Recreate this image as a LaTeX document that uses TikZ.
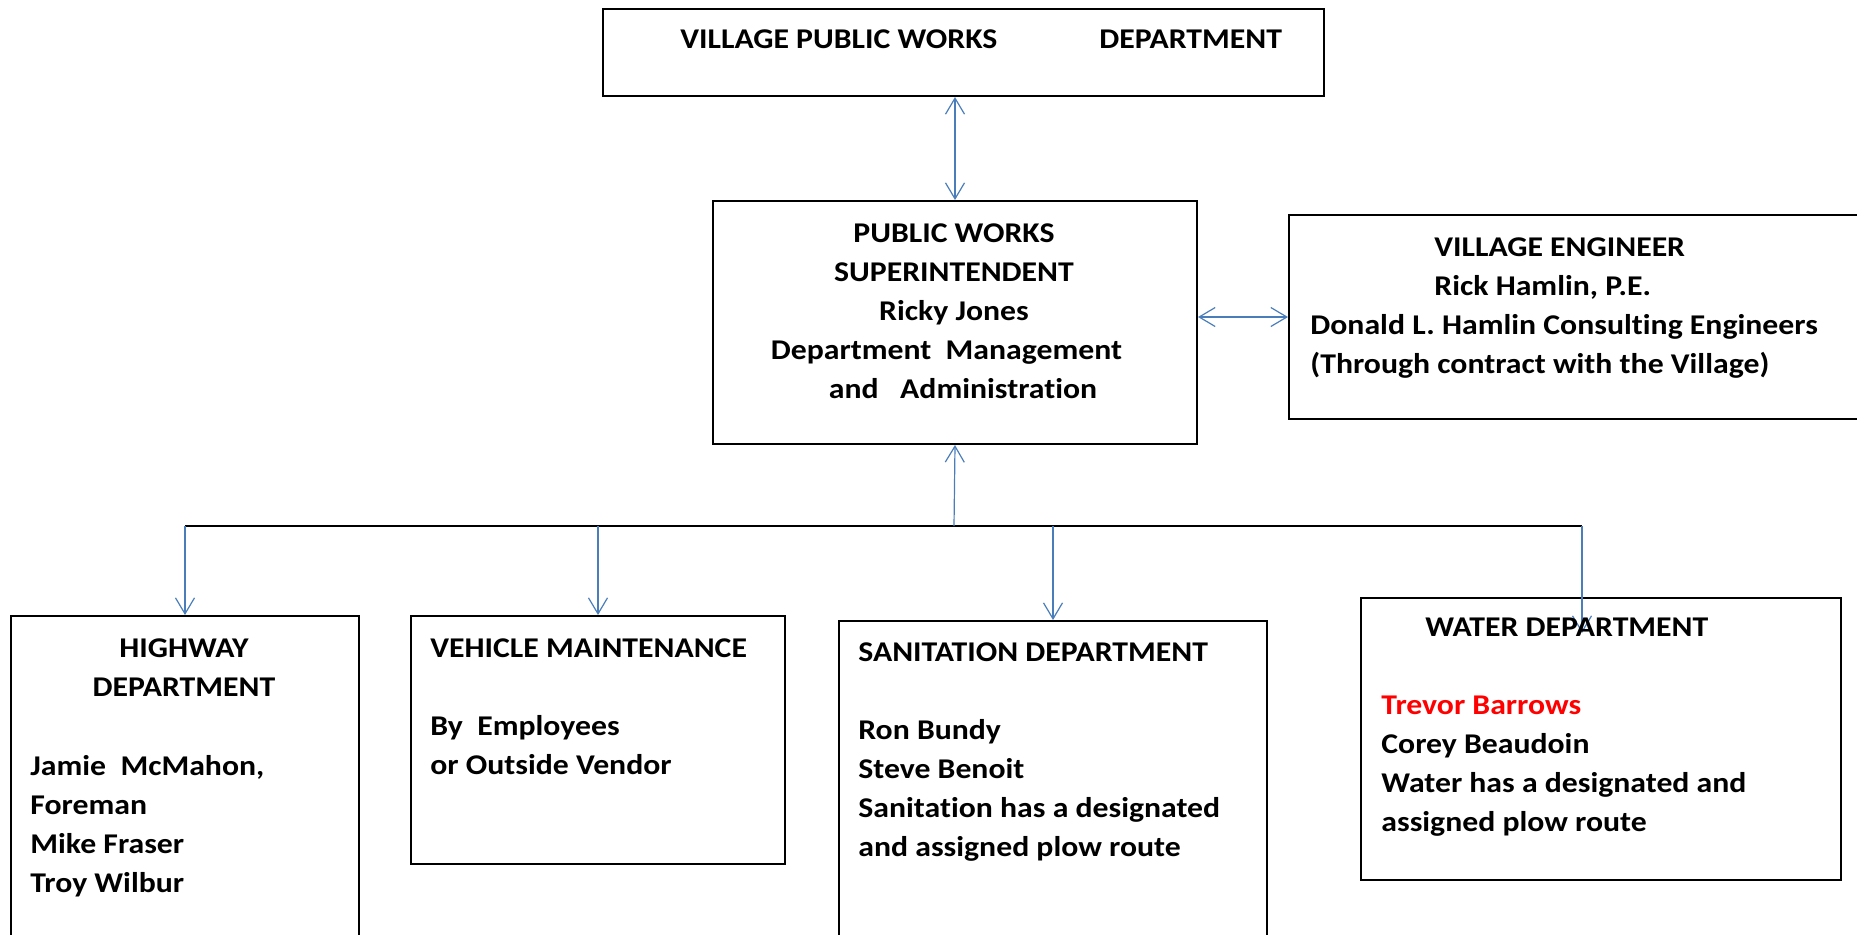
\documentclass[tikz,border=0pt]{standalone}
\usepackage{fontspec}
\setmainfont{Carlito}[FakeStretch=1.11, Ligatures=NoCommon]
\usetikzlibrary{positioning,arrows.meta}
\definecolor{linkblue}{RGB}{74,126,187}

\begin{document}
\begin{tikzpicture}[
  x=0.5pt, y=-0.5pt,
  every node/.style={font=\fontsize{14.3}{19.5}\selectfont\bfseries},
  box/.style={draw, line width=1pt, inner sep=0pt, anchor=north west},
  txt/.style={inner sep=0pt, align=left, anchor=north west},
  ctxt/.style={inner sep=0pt, align=center, anchor=north},
  link/.style={draw=linkblue, line width=0.6pt, >={Straight Barb[length=8pt,width=9.5pt]}},
  bus/.style={draw=black, line width=1pt},
]
\useasboundingbox (0,0) rectangle (1857,934);

% ── boxes ──
\node[box, minimum width=360.5pt, minimum height=43.5pt]  (top) at (602,8)    {};
\node[box, minimum width=242pt,   minimum height=121.5pt] (mid) at (712,200)  {};
\node[box, minimum width=290pt,   minimum height=102pt]   (eng) at (1288,214) {};
\node[box, minimum width=174pt,   minimum height=180pt]   (hwy) at (10,615)   {};
\node[box, minimum width=187pt,   minimum height=124pt]   (veh) at (410,615)  {};
\node[box, minimum width=214pt,   minimum height=180pt]   (san) at (838,620)  {};
\node[box, minimum width=240pt,   minimum height=141pt]   (wat) at (1360,597) {};

% ── connectors ──
\coordinate (bus)  at (954,526);
\coordinate (wtip) at (1582,633);

\draw[link,<->] (top.south -| mid.north) -- (mid.north);
\draw[link,<->] (mid.east |- eng.west) -- (eng.west);

\draw[bus] (hwy.north |- bus) -- (wtip |- bus);
\draw[link,->] (bus) -- (mid.south);
\foreach \d in {hwy,veh,san}{
  \draw[link,->] (\d.north |- bus) -- (\d.north);
}
\draw[link,->] (wtip |- bus) -- (wtip);

% ── texts ──
\node[txt] (toptxt) at (680,29) {VILLAGE PUBLIC WORKS\hspace{51pt}DEPARTMENT};

\node[ctxt] (midtxt) at (954,223)
  {PUBLIC WORKS\\SUPERINTENDENT\\Ricky Jones\\Department\ \ Management\hspace*{7.5pt}\mbox{}\\\hspace*{9pt}and\ \ \ Administration};

\node[txt] (engtxt) at (1310,237)
  {\hspace*{62pt}VILLAGE ENGINEER\\\hspace*{62pt}Rick Hamlin, P.E.\\Donald L. Hamlin Consulting Engineers\\(Through contract with the Village)};

\node[ctxt] (hwyhead) at (184,638) {HIGHWAY\\DEPARTMENT};
\node[txt] (hwystaff) at (30,755) {Jamie\ \ McMahon,\\Foreman\\Mike Fraser\\Troy Wilbur};

\node[txt] (vehtxt) at (430,638) {VEHICLE MAINTENANCE\\[19.5pt]By\ \ Employees\\or Outside Vendor};

\node[txt] (santxt) at (858,642)
  {SANITATION DEPARTMENT\\[19.5pt]Ron Bundy\\Steve Benoit\\Sanitation has a designated\\and assigned plow route};

\node[txt] (wattxt) at (1381,618)
  {\hspace*{22pt}WATER DEPARTMENT\\[19.5pt]\textcolor{red}{Trevor Barrows}\\Corey Beaudoin\\Water has a designated and\\assigned plow route};

\end{tikzpicture}
\end{document}
